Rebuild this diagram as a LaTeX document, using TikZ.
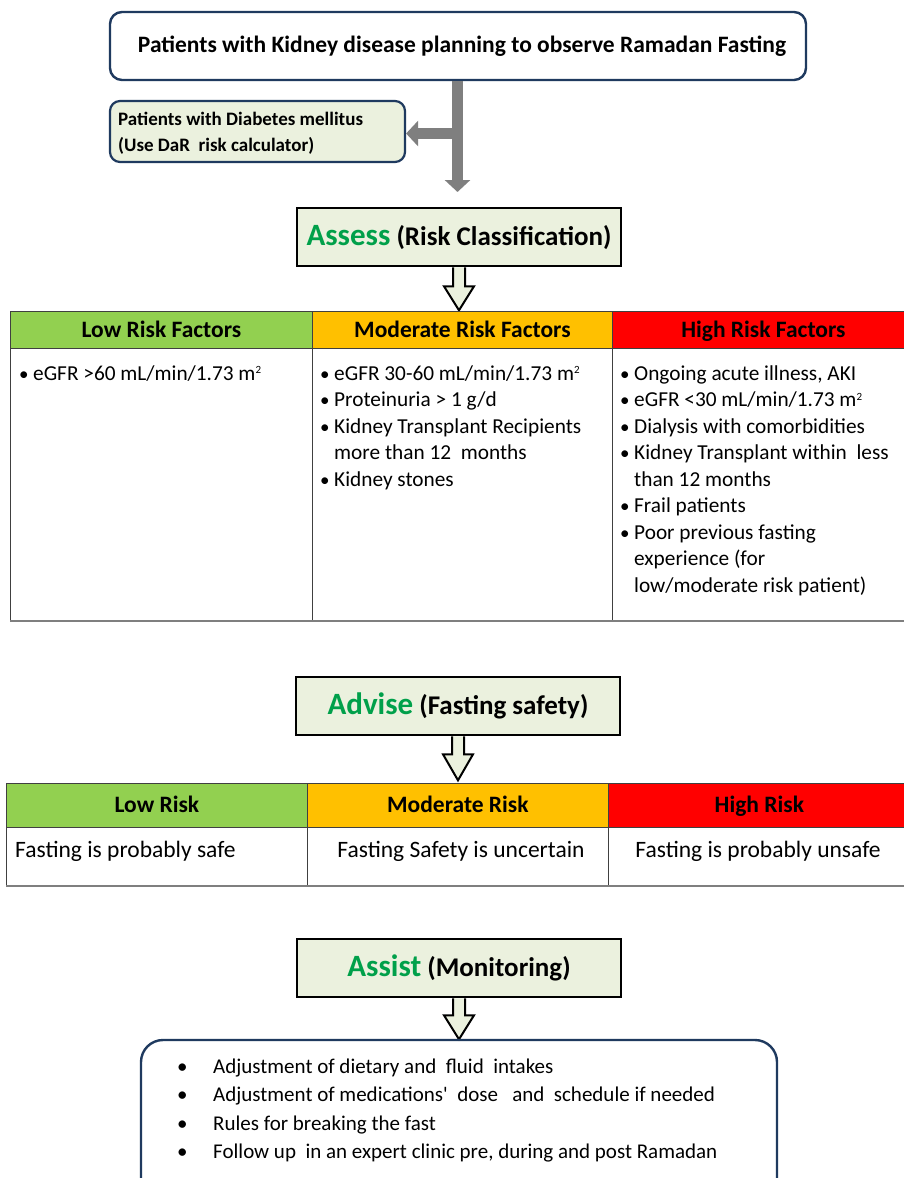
\documentclass[tikz,border=0pt]{standalone}
\usepackage{fontspec}
\setmainfont{Carlito}
\usetikzlibrary{arrows.meta}
\definecolor{navy}{HTML}{1F3A5F}
\definecolor{lightfill}{HTML}{EBF1DE}
\definecolor{stepgreen}{HTML}{00A04A}
\definecolor{lowgreen}{HTML}{92D050}
\definecolor{modorange}{HTML}{FFC000}
\definecolor{highred}{HTML}{FF0000}
\definecolor{arrowgray}{HTML}{7F7F7F}
\definecolor{gridline}{HTML}{404040}
\newcommand\myhollowarrow[3]{%
  \draw[hollowarrow] ([xshift=-6pt]#1.south) -- ++(0,#2) -- ++(-9,0) -- ++(15,#3) -- ++(15,-#3) -- ++(-9,0) -- ++(0,-#2);}
\newcommand\sqtwo{\raisebox{6.5pt}{\fontsize{11}{12}\selectfont 2}}
\begin{document}
\begin{tikzpicture}[x=1pt,y=-1pt,
  titlebox/.style={draw=navy,line width=2.4pt,rounded corners=12pt,fill=white,
    minimum width=696pt,minimum height=68pt,font=\bfseries\fontsize{23.5}{28}\selectfont},
  dmbox/.style={draw=navy,line width=2.2pt,rounded corners=10pt,fill=lightfill,
    minimum width=295pt,minimum height=61pt},
  stagebox/.style={draw=black,line width=2.6pt,fill=lightfill,minimum width=324pt,
    minimum height=58pt,font=\bfseries\fontsize{27}{31}\selectfont},
  hollowarrow/.style={draw=black,line width=2pt,fill=lightfill,line join=miter},
  grayarrow/.style={draw=arrowgray,line width=11pt,-{Triangle[length=12pt,width=25pt]}},
  headcell/.style={draw=gridline,line width=0.8pt,anchor=north west,inner sep=0pt,
    text height=15pt,text depth=0pt,font=\bfseries\fontsize{23.5}{28}\selectfont},
  bodycell/.style={draw=gridline,line width=0.8pt,anchor=north west,inner sep=0pt,fill=white},
  rowtext/.style={anchor=base west,inner sep=0pt,font=\fontsize{21.3}{25}\selectfont},
  bul/.style={anchor=base west,inner sep=0pt,font=\fontsize{19}{22}\selectfont},
  safetext/.style={anchor=base,inner sep=0pt,font=\fontsize{23.5}{28}\selectfont},
  listtext/.style={anchor=base west,inner sep=0pt,font=\fontsize{21}{25}\selectfont},
  bottomline/.style={draw=arrowgray,line width=1.8pt}
]
\useasboundingbox (0,0) rectangle (904,1178);
\fill[white] (0,0) rectangle (904,1178);
\clip (0,0) rectangle (904,1178);

% ---------- top ----------
\node[titlebox] (top) at (458,46) {\hspace*{8pt}Patients with Kidney disease planning to observe Ramadan Fasting};
\coordinate (junction) at (457.5,133.5);
\coordinate (downend) at (457.5,192);
\draw[draw=arrowgray,line width=11pt] (top.south -| junction) -- (junction);
\node[dmbox] (dm) at (257.5,131.5) {};
\node[anchor=west,inner sep=0pt,align=left,font=\bfseries\fontsize{19}{26}\selectfont] (dmtext) at (118,133)
  {Patients with Diabetes mellitus\\(Use DaR\ \ risk calculator)};
\draw[grayarrow] (junction) -- (dm.east |- junction);
\draw[grayarrow] (junction) -- (downend);

% ---------- Assess ----------
\node[stagebox] (assess) at (459,237) {\textcolor{stepgreen}{\fontsize{31}{35}\selectfont Assess} (Risk Classification)};
\myhollowarrow{assess}{19}{24}

% ---------- table 1 ----------
\node[headcell,fill=lowgreen,minimum width=302pt,minimum height=37pt] (h1) at (10,311) {Low Risk Factors};
\node[headcell,fill=modorange,minimum width=300pt,minimum height=37pt] (h2) at (312,311) {Moderate Risk Factors};
\node[headcell,fill=highred,minimum width=302pt,minimum height=37pt] (h3) at (612,311) {High Risk Factors};
\node[bodycell,minimum width=302pt,minimum height=272pt] (b1) at (10,348) {};
\node[bodycell,minimum width=300pt,minimum height=272pt] (b2) at (312,348) {};
\node[bodycell,minimum width=302pt,minimum height=272pt] (b3) at (612,348) {};
\draw[bottomline] (b1.south west) -- (b3.south east);

\node[bul] (l1b) at (19,380) {•};
\node[rowtext] (l1) at (33,380) {eGFR >60 mL/min/1.73 m\sqtwo};

\node[bul] (m1b) at (320,380) {•};
\node[rowtext] (m1) at (334,380) {eGFR 30-60 mL/min/1.73 m\sqtwo};
\node[bul] (m2b) at (320,406.5) {•};
\node[rowtext] (m2) at (334,406.5) {Proteinuria > 1 g/d};
\node[bul] (m3b) at (320,433) {•};
\node[rowtext] (m3) at (334,433) {Kidney Transplant Recipients};
\node[rowtext] (m4) at (334,459.5) {more than 12\ \ months};
\node[bul] (m5b) at (320,486) {•};
\node[rowtext] (m5) at (334,486) {Kidney stones};

\node[bul] (r1b) at (620,380) {•};
\node[rowtext] (r1) at (634,380) {Ongoing acute illness, AKI};
\node[bul] (r2b) at (620,406.5) {•};
\node[rowtext] (r2) at (634,406.5) {eGFR <30 mL/min/1.73 m\sqtwo};
\node[bul] (r3b) at (620,433) {•};
\node[rowtext] (r3) at (634,433) {Dialysis with comorbidities};
\node[bul] (r4b) at (620,459.5) {•};
\node[rowtext] (r4) at (634,459.5) {Kidney Transplant within\ \ less};
\node[rowtext] (r5) at (634,486) {than 12 months};
\node[bul] (r6b) at (620,512.5) {•};
\node[rowtext] (r6) at (634,512.5) {Frail patients};
\node[bul] (r7b) at (620,539) {•};
\node[rowtext] (r7) at (634,539) {Poor previous fasting};
\node[rowtext] (r8) at (634,565.5) {experience (for};
\node[rowtext] (r9) at (634,592) {low/moderate risk patient)};

% ---------- Advise ----------
\node[stagebox] (advise) at (458,706) {\textcolor{stepgreen}{\fontsize{31}{35}\selectfont Advise} (Fasting safety)};
\myhollowarrow{advise}{18}{26}

% ---------- table 2 ----------
\node[headcell,fill=lowgreen,minimum width=301pt,minimum height=44pt] (s1) at (6,783) {Low Risk};
\node[headcell,fill=modorange,minimum width=301pt,minimum height=44pt] (s2) at (307,783) {Moderate Risk};
\node[headcell,fill=highred,minimum width=302pt,minimum height=44pt] (s3) at (608,783) {High Risk};
\node[bodycell,minimum width=301pt,minimum height=58pt] (t1) at (6,827) {};
\node[bodycell,minimum width=301pt,minimum height=58pt] (t2) at (307,827) {};
\node[bodycell,minimum width=302pt,minimum height=58pt] (t3) at (608,827) {};
\draw[bottomline] (t1.south west) -- (t3.south east);
\node[safetext,anchor=base west] (tx1) at (15,857) {Fasting is probably safe};
\node[safetext] (tx2) at (461,857) {Fasting Safety is uncertain};
\node[safetext] (tx3) at (758,857) {Fasting is probably unsafe};

% ---------- Assist ----------
\node[stagebox] (assist) at (459,968) {\textcolor{stepgreen}{\fontsize{31}{35}\selectfont Assist} (Monitoring)};
\myhollowarrow{assist}{17}{24}

\draw[draw=navy,line width=2.4pt,rounded corners=22pt] (141,1040) rectangle (777,1200);
\coordinate (listbox) at (459,1040);
\foreach \yy/\tt [count=\i] in {1073/{Adjustment of dietary and\ \ fluid\ \ intakes},
  1101.5/{Adjustment of medications\textquotesingle\ \ dose\ \ \ and\ \ schedule if needed},
  1130/{Rules for breaking the fast},
  1158.5/{Follow up\ \ in an expert clinic pre, during and post Ramadan}}{
  \node[listtext] (lb\i) at (177,\yy) {•};
  \node[listtext] (lt\i) at (213,\yy) {\tt};
}
\end{tikzpicture}
\end{document}
